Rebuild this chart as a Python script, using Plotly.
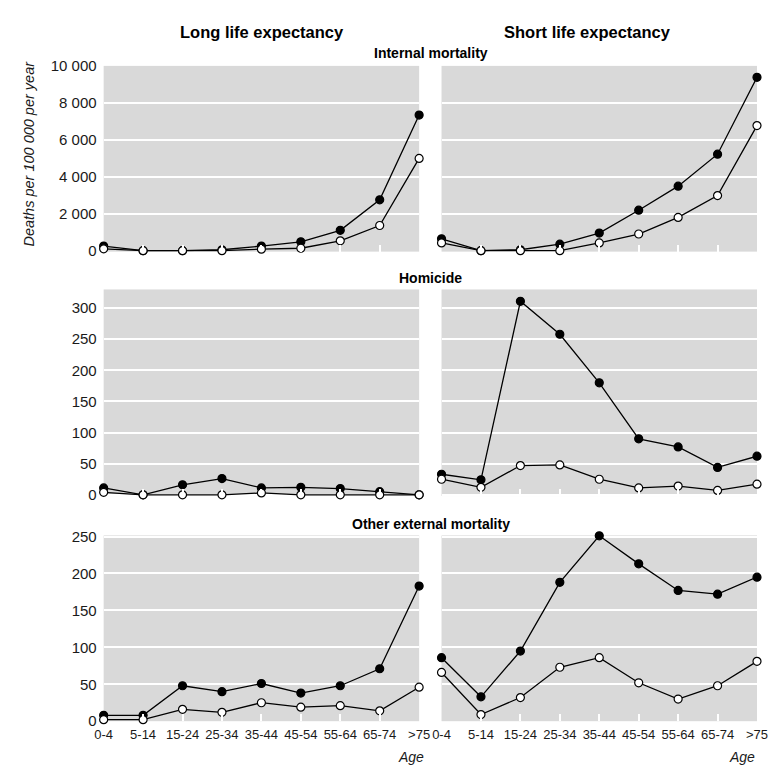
import plotly.graph_objects as go

ages = ["0-4", "5-14", "15-24", "25-34", "35-44", "45-54", "55-64", "65-74", ">75"]

# Internal mortality (deaths per 100 000 per year)
int_long_filled = [250, 0, 0, 50, 250, 480, 1100, 2750, 7340]
int_long_open = [100, 0, 0, 0, 80, 130, 530, 1360, 4990]
int_short_filled = [640, 0, 50, 350, 950, 2190, 3490, 5220, 9380]
int_short_open = [420, 0, 0, 0, 420, 900, 1800, 2980, 6770]

# Homicide
hom_long_filled = [11, 0, 16, 26, 11, 12, 10, 5, 0]
hom_long_open = [4, 0, 0, 0, 3, 0, 0, 0, 0]
hom_short_filled = [33, 24, 311, 258, 180, 90, 77, 44, 62]
hom_short_open = [25, 12, 47, 48, 25, 11, 14, 7, 17]

# Other external mortality
ext_long_filled = [8, 8, 48, 40, 51, 38, 48, 71, 183]
ext_long_open = [2, 2, 16, 12, 25, 19, 21, 14, 46]
ext_short_filled = [86, 33, 95, 188, 251, 213, 177, 172, 195]
ext_short_open = [66, 9, 32, 73, 86, 52, 30, 48, 81]

int_ticks = [0, 2000, 4000, 6000, 8000, 10000]
int_ticktext = ["0", "2 000", "4 000", "6 000", "8 000", "10 000"]
hom_ticks = [0, 50, 100, 150, 200, 250, 300]
ext_ticks = [0, 50, 100, 150, 200, 250]

# figure is 760 px, placed at the default 8 px page margin inside the 776 px window
W = H = 760
OFF = 8
FONT = "Liberation Sans, Arial, sans-serif"
BG = "#d9d9d9"

def px(x):
    return (x - OFF) / W

def py(y):
    return 1 - (y - OFF) / H

def clamp(v):
    return max(0.0, min(1.0, v))

fig = go.Figure()

panels = [
    (1, 1, int_long_filled, int_long_open),
    (1, 2, int_short_filled, int_short_open),
    (2, 1, hom_long_filled, hom_long_open),
    (2, 2, hom_short_filled, hom_short_open),
    (3, 1, ext_long_filled, ext_long_open),
    (3, 2, ext_short_filled, ext_short_open),
]

xdom = {1: [px(97), px(421)], 2: [px(444), clamp(px(769))]}
ydom = {1: [py(248), py(58)], 2: [py(498), py(286.7)], 3: [py(728.3), py(538.3)]}
yrange = {1: [-53, 10000], 2: [-2, 330], 3: [0, 251.5]}
yticks = {1: (int_ticks, int_ticktext), 2: (hom_ticks, [str(v) for v in hom_ticks]),
          3: (ext_ticks, [str(v) for v in ext_ticks])}

for i, (r, c, filled, opened) in enumerate(panels):
    n = i + 1
    xa = "x" if n == 1 else f"x{n}"
    ya = "y" if n == 1 else f"y{n}"
    for vals, fill in ((filled, "black"), (opened, "white")):
        fig.add_trace(go.Scatter(
            x=ages, y=vals, xaxis=xa, yaxis=ya, mode="lines+markers",
            line=dict(color="black", width=1.3),
            marker=dict(size=8, color=fill, line=dict(color="black", width=1.2)),
            cliponaxis=False, showlegend=False, hoverinfo="skip"))
    xkey = "xaxis" if n == 1 else f"xaxis{n}"
    ykey = "yaxis" if n == 1 else f"yaxis{n}"
    tv, tt = yticks[r]
    fig.update_layout(**{
        xkey: dict(domain=xdom[c], anchor=ya, type="category", range=[0, 8],
                   showgrid=False, zeroline=False, showline=False,
                   ticks="inside", ticklen=7, tickwidth=2, tickcolor="white",
                   showticklabels=(r == 3), tickangle=0, ticklabelstandoff=4,
                   tickfont=dict(family=FONT, size=13, color="#1a1a1a")),
        ykey: dict(domain=ydom[r], anchor=xa, range=yrange[r],
                   tickvals=tv, ticktext=tt, showticklabels=(c == 1),
                   showgrid=True, gridcolor="white", gridwidth=2,
                   zeroline=False, showline=False, ticks="",
                   ticklabelstandoff=6,
                   tickfont=dict(family=FONT, size=15, color="#1a1a1a")),
    })

annotations = [
    dict(text="<b>Long life expectancy</b>", x=px(260), y=py(23), size=16.5),
    dict(text="<b>Short life expectancy</b>", x=px(594), y=py(23), size=16.5),
    dict(text="<b>Internal mortality</b>", x=px(433), y=py(45), size=14),
    dict(text="<b>Homicide</b>", x=px(433), y=py(275), size=14),
    dict(text="<b>Other external mortality</b>", x=px(433), y=py(527), size=14),
]
anns = []
for a in annotations:
    anns.append(dict(text=a["text"], x=a["x"], y=a["y"], xref="paper", yref="paper",
                     xanchor="center", yanchor="middle", showarrow=False,
                     font=dict(family=FONT, size=a["size"], color="black")))
anns.append(dict(text="<i>Deaths per 100 000 per year</i>", x=px(20), y=py(148),
                 xref="paper", yref="paper", textangle=-90, showarrow=False,
                 xanchor="center", yanchor="middle",
                 font=dict(family=FONT, size=14.5, color="#1a1a1a")))
for xr in (428, 768):
    anns.append(dict(text="<i>Age</i>", x=px(xr), y=py(765), xref="paper", yref="paper",
                     xanchor="right", yanchor="middle", showarrow=False,
                     font=dict(family=FONT, size=14, color="#1a1a1a")))

fig.update_layout(
    width=W, height=H, autosize=False,
    margin=dict(l=0, r=0, t=0, b=0),
    paper_bgcolor="white", plot_bgcolor=BG,
    annotations=anns,
)

fig.write_html("out.html", config={"displayModeBar": False})
